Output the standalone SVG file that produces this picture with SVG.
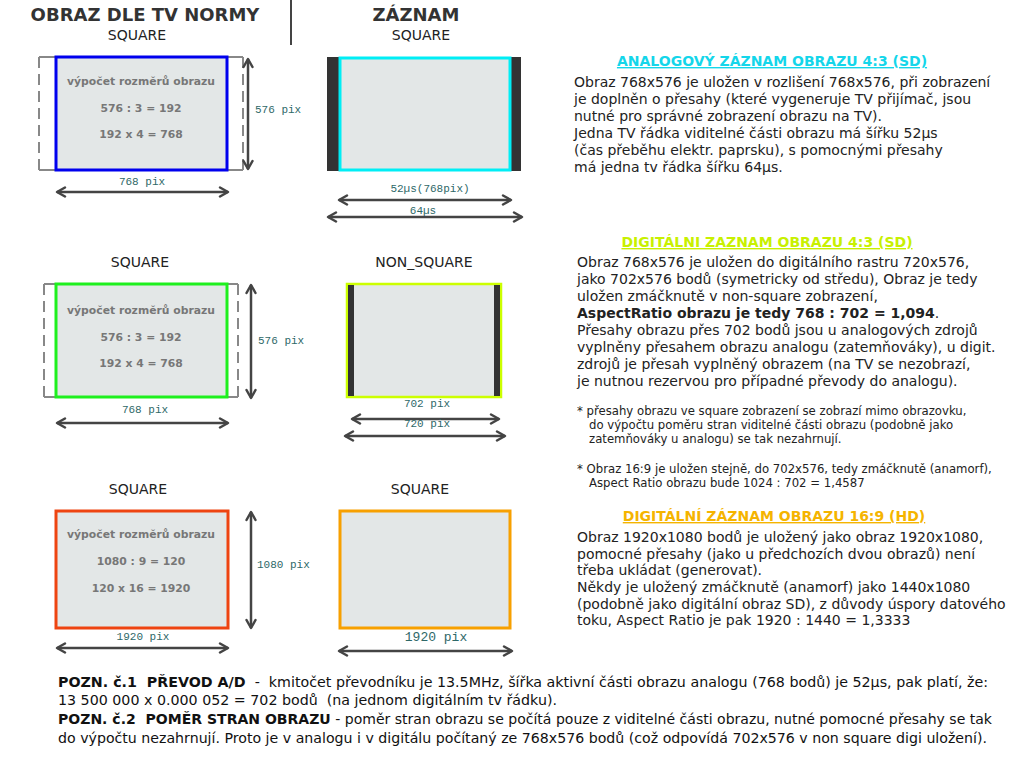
<svg xmlns="http://www.w3.org/2000/svg" width="1024" height="768" viewBox="0 0 1024 768">
<defs>
<style>
.hdr{font-family:"DejaVu Sans",Verdana,sans-serif;font-weight:bold;font-size:18px;fill:#333;text-anchor:middle}
.sub{font-family:"DejaVu Sans",Verdana,sans-serif;font-size:14px;fill:#222;text-anchor:middle}
.calc{font-family:"DejaVu Sans",Verdana,sans-serif;font-weight:bold;font-size:10.8px;fill:#777;text-anchor:middle}
.mono{font-family:"Liberation Mono","DejaVu Sans Mono",monospace;font-size:11px;fill:#2e6868}
.monoc{font-family:"Liberation Mono","DejaVu Sans Mono",monospace;font-size:11px;fill:#2e6868;text-anchor:middle}
.ttl{font-family:"DejaVu Sans",Verdana,sans-serif;font-weight:bold;font-size:14px;text-anchor:middle;text-decoration:underline}
.body{font-family:"DejaVu Sans",Verdana,sans-serif;font-size:14px;fill:#222}
.note{font-family:"DejaVu Sans",Verdana,sans-serif;font-size:11.7px;fill:#222}
.foot{font-family:"DejaVu Sans",Verdana,sans-serif;font-size:13.5px;fill:#111;white-space:pre}
.b{font-weight:bold}
.scr{fill:#e3e7e7;stroke-width:3}
.ov{fill:none;stroke:#888;stroke-width:2}
.ovd{fill:none;stroke:#888;stroke-width:2;stroke-dasharray:11 6}
.arr{fill:none;stroke:#444;stroke-width:2.5;marker-start:url(#ah);marker-end:url(#ah)}
</style>
<marker id="ah" viewBox="-10 -6 12 12" markerWidth="12" markerHeight="12" refX="0" refY="0" orient="auto-start-reverse" markerUnits="userSpaceOnUse">
<path d="M-8,-4.5 L0,0 L-8,4.5" fill="none" stroke="#444" stroke-width="2.5" stroke-linecap="round" stroke-linejoin="round"/>
</marker>
</defs>
<rect x="0" y="0" width="1024" height="768" fill="#ffffff"/>

<g id="headers">
<text class="hdr" x="145" y="21">OBRAZ DLE TV NORMY</text>
<text class="sub" x="137" y="40">SQUARE</text>
<line x1="291" y1="0" x2="291" y2="45" stroke="#444" stroke-width="2"/>
<text class="hdr" x="416" y="21">ZÁZNAM</text>
<text class="sub" x="421" y="40">SQUARE</text>
<text class="sub" x="140" y="267">SQUARE</text>
<text class="sub" x="424" y="267">NON_SQUARE</text>
<text class="sub" x="138" y="494">SQUARE</text>
<text class="sub" x="420" y="494">SQUARE</text>
</g>

<g id="tv-sd-1">
<path class="ov" d="M56,57 H39 M39,170 H56 M227,57 H243 M227,170 H243"/>
<path class="ovd" d="M39,57 V170 M243,57 V170"/>
<rect class="scr" x="56" y="57" width="171" height="113" stroke="#0000ee"/>
<text class="calc" x="141" y="85">výpočet rozměrů obrazu</text>
<text class="calc" x="141" y="112">576 : 3 = 192</text>
<text class="calc" x="141" y="138">192 x 4 = 768</text>
</g>

<g id="rec-analog">
<rect x="327" y="57" width="194" height="114" fill="#333"/>
<rect class="scr" x="340" y="58" width="170" height="112" stroke="#00eef5"/>
</g>

<g id="tv-sd-2">
<path class="ov" d="M56,284 H44 M44,397 H56 M227,284 H238 M227,397 H238"/>
<path class="ovd" d="M44,284 V397 M238,284 V397"/>
<rect class="scr" x="56" y="284" width="171" height="113" stroke="#1ef01e"/>
<text class="calc" x="141" y="314">výpočet rozměrů obrazu</text>
<text class="calc" x="141" y="341">576 : 3 = 192</text>
<text class="calc" x="141" y="367">192 x 4 = 768</text>
</g>

<g id="rec-digital-sd">
<rect class="scr" x="347" y="284" width="154" height="113" stroke="#ccff00" style="stroke-width:2.5"/>
<rect x="348" y="285" width="6" height="111" fill="#333"/>
<rect x="494" y="285" width="6" height="111" fill="#333"/>
</g>

<g id="tv-hd">
<rect class="scr" x="56" y="511" width="172" height="117" stroke="#ee4411"/>
<text class="calc" x="141" y="538">výpočet rozměrů obrazu</text>
<text class="calc" x="141" y="565">1080 : 9 = 120</text>
<text class="calc" x="141" y="592">120 x 16 = 1920</text>
</g>

<g id="rec-hd">
<rect class="scr" x="340" y="511" width="170" height="117" stroke="#f7a000"/>
</g>

<g id="connectors">
<line class="arr" x1="248" y1="59" x2="248" y2="169"/>
<line class="arr" x1="57" y1="192" x2="228" y2="192"/>
<line class="arr" x1="339" y1="200" x2="511" y2="200"/>
<line class="arr" x1="328" y1="217" x2="522" y2="217"/>
<line class="arr" x1="251" y1="285" x2="251" y2="398"/>
<line class="arr" x1="57" y1="423" x2="228" y2="423"/>
<line class="arr" x1="352" y1="419" x2="499" y2="419"/>
<line class="arr" x1="345" y1="436" x2="505" y2="436"/>
<line class="arr" x1="251" y1="512" x2="251" y2="628"/>
<line class="arr" x1="57" y1="648" x2="228" y2="648"/>
<line class="arr" x1="339" y1="651" x2="512" y2="651"/>
</g>

<g id="dim-labels">
<text class="mono" x="255" y="113">576 pix</text>
<text class="monoc" x="142" y="185">768 pix</text>
<text class="monoc" x="430" y="192">52µs(768pix)</text>
<text class="monoc" x="423" y="214">64µs</text>
<text class="mono" x="258" y="344">576 pix</text>
<text class="monoc" x="145" y="413">768 pix</text>
<text class="monoc" x="427" y="407">702 pix</text>
<text class="monoc" x="427" y="427">720 pix</text>
<text class="mono" x="257" y="568">1080 pix</text>
<text class="monoc" x="143" y="640">1920 pix</text>
<text class="monoc" x="436" y="641" style="font-size:13px">1920 pix</text>
</g>

<g id="text-analog">
<text class="ttl" x="772" y="66" fill="#14d6ea">ANALOGOVÝ ZÁZNAM OBRAZU 4:3 (SD)</text>
<text class="body" x="574" y="87">Obraz 768x576 je uložen v rozlišení 768x576, při zobrazení</text>
<text class="body" x="574" y="104">je doplněn o přesahy (které vygeneruje TV přijímač, jsou</text>
<text class="body" x="574" y="121">nutné pro správné zobrazení obrazu na TV).</text>
<text class="body" x="574" y="138">Jedna TV řádka viditelné části obrazu má šířku 52µs</text>
<text class="body" x="574" y="155">(čas přeběhu elektr. paprsku), s pomocnými přesahy</text>
<text class="body" x="574" y="172">má jedna tv řádka šířku 64µs.</text>
</g>

<g id="text-digital-sd">
<text class="ttl" x="767" y="247" fill="#c8f000">DIGITÁLNI ZAZNAM OBRAZU 4:3 (SD)</text>
<text class="body" x="577" y="267">Obraz 768x576 je uložen do digitálního rastru 720x576,</text>
<text class="body" x="577" y="284">jako 702x576 bodů (symetricky od středu), Obraz je tedy</text>
<text class="body" x="577" y="301">uložen zmáčknutě v non-square zobrazení,</text>
<text class="body" x="577" y="318"><tspan class="b">AspectRatio obrazu je tedy 768 : 702 = 1,094</tspan>.</text>
<text class="body" x="577" y="335">Přesahy obrazu přes 702 bodů jsou u analogových zdrojů</text>
<text class="body" x="577" y="352">vyplněny přesahem obrazu analogu (zatemňováky), u digit.</text>
<text class="body" x="577" y="369">zdrojů je přesah vyplněný obrazem (na TV se nezobrazí,</text>
<text class="body" x="577" y="386">je nutnou rezervou pro případné převody do analogu).</text>
</g>

<g id="notes">
<text class="note" x="577" y="415">* přesahy obrazu ve square zobrazení se zobrazí mimo obrazovku,</text>
<text class="note" x="589" y="429">do výpočtu poměru stran viditelné části obrazu (podobně jako</text>
<text class="note" x="589" y="443">zatemňováky u analogu) se tak nezahrnují.</text>
<text class="note" x="577" y="473">* Obraz 16:9 je uložen stejně, do 702x576, tedy zmáčknutě (anamorf),</text>
<text class="note" x="589" y="487">Aspect Ratio obrazu bude 1024 : 702 = 1,4587</text>
</g>

<g id="text-hd">
<text class="ttl" x="774" y="521" fill="#f5b400">DIGITÁLNÍ ZÁZNAM OBRAZU 16:9 (HD)</text>
<text class="body" x="577" y="542">Obraz 1920x1080 bodů je uložený jako obraz 1920x1080,</text>
<text class="body" x="577" y="559">pomocné přesahy (jako u předchozích dvou obrazů) není</text>
<text class="body" x="577" y="575">třeba ukládat (generovat).</text>
<text class="body" x="577" y="592">Někdy je uložený zmáčknutě (anamorf) jako 1440x1080</text>
<text class="body" x="577" y="609">(podobně jako digitální obraz SD), z důvody úspory datového</text>
<text class="body" x="577" y="625">toku, Aspect Ratio je pak 1920 : 1440 = 1,3333</text>
</g>

<g id="footnotes">
<text class="foot" xml:space="preserve" x="58" y="687" textLength="930" lengthAdjust="spacingAndGlyphs"><tspan class="b">POZN. č.1  PŘEVOD A/D</tspan>  -  kmitočet převodníku je 13.5MHz, šířka aktivní části obrazu analogu (768 bodů) je 52µs, pak platí, že:</text>
<text class="foot" xml:space="preserve" x="58" y="705" textLength="499" lengthAdjust="spacingAndGlyphs">13 500 000 x 0.000 052 = 702 bodů  (na jednom digitálním tv řádku).</text>
<text class="foot" xml:space="preserve" x="58" y="724" textLength="934" lengthAdjust="spacingAndGlyphs"><tspan class="b">POZN. č.2  POMĚR STRAN OBRAZU</tspan> - poměr stran obrazu se počítá pouze z viditelné části obrazu, nutné pomocné přesahy se tak</text>
<text class="foot" xml:space="preserve" x="58" y="743" textLength="929" lengthAdjust="spacingAndGlyphs">do výpočtu nezahrnují. Proto je v analogu i v digitálu počítaný ze 768x576 bodů (což odpovídá 702x576 v non square digi uložení).</text>
</g>
</svg>
